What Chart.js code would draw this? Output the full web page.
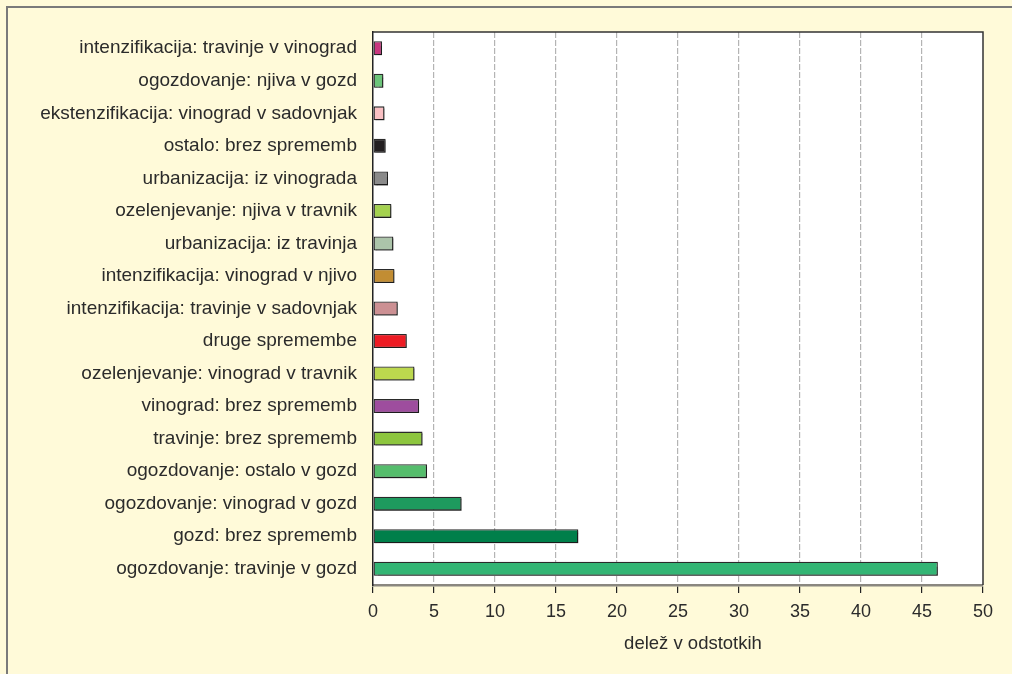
<!DOCTYPE html>
<html>
<head>
<meta charset="utf-8">
<script src="https://cdn.jsdelivr.net/npm/chart.js@4"></script>
<style>
  html, body { margin: 0; padding: 0; background: #fffad9; }
  #wrap { width: 1012px; height: 674px; }
</style>
</head>
<body>
<div id="wrap"><canvas id="landUseChart" width="1012" height="674"></canvas></div>
<script>
const categories = [
    'intenzifikacija: travinje v vinograd',
    'ogozdovanje: njiva v gozd',
    'ekstenzifikacija: vinograd v sadovnjak',
    'ostalo: brez sprememb',
    'urbanizacija: iz vinograda',
    'ozelenjevanje: njiva v travnik',
    'urbanizacija: iz travinja',
    'intenzifikacija: vinograd v njivo',
    'intenzifikacija: travinje v sadovnjak',
    'druge spremembe',
    'ozelenjevanje: vinograd v travnik',
    'vinograd: brez sprememb',
    'travinje: brez sprememb',
    'ogozdovanje: ostalo v gozd',
    'ogozdovanje: vinograd v gozd',
    'gozd: brez sprememb',
    'ogozdovanje: travinje v gozd'
];

const shares = [0.74, 0.85, 0.94, 1.04, 1.23, 1.51, 1.67, 1.76, 2.03, 2.77, 3.4, 3.78, 4.06, 4.43, 7.26, 16.83, 46.3];

const barColors = [
    '#c8377f', '#6cc47a', '#f9c0c3', '#231f20', '#8a8a8a', '#a4d14f',
    '#acc4aa', '#c28d33', '#cc9093', '#ed1c24', '#bcd84e', '#9e4d9e',
    '#8dc63f', '#55bd6c', '#1e9a5e', '#007f4a', '#33b574'
];

const xTicks = [0, 5, 10, 15, 20, 25, 30, 35, 40, 45, 50];
const axisTitle = 'delež v odstotkih';

// background, outer frame, white plot area, its top/right border and the axis title
const framePlugin = {
    id: 'frame',
    beforeDraw(chart) {
        const { ctx, chartArea: a } = chart;
        ctx.save();
        ctx.fillStyle = '#fffad9';
        ctx.fillRect(0, 0, chart.width, chart.height);
        ctx.strokeStyle = '#7a7a7a';
        ctx.lineWidth = 2;
        ctx.beginPath();
        ctx.moveTo(7, chart.height);
        ctx.lineTo(7, 7);
        ctx.lineTo(chart.width, 7);
        ctx.stroke();
        ctx.fillStyle = '#ffffff';
        ctx.fillRect(a.left, a.top, a.right - a.left, a.bottom - a.top);
        ctx.restore();
    },
    afterDraw(chart) {
        const { ctx, chartArea: a } = chart;
        ctx.save();
        ctx.strokeStyle = '#333333';
        ctx.lineWidth = 1.5;
        ctx.beginPath();
        ctx.moveTo(a.left, a.top);
        ctx.lineTo(a.right, a.top);
        ctx.lineTo(a.right, a.bottom);
        ctx.stroke();
        ctx.fillStyle = '#2b2b2b';
        ctx.font = '18.5px "Liberation Sans", Arial, sans-serif';
        ctx.textAlign = 'center';
        ctx.textBaseline = 'middle';
        ctx.fillText(axisTitle, (a.left + a.right) / 2 + 15, a.bottom + 59);
        ctx.restore();
    }
};

// soft drop shadow under the bars
const shadowPlugin = {
    id: 'barShadow',
    beforeDatasetsDraw(chart) {
        const ctx = chart.ctx;
        ctx.save();
        ctx.shadowColor = 'rgba(0, 0, 0, 0.35)';
        ctx.shadowOffsetX = 1.5;
        ctx.shadowOffsetY = 1.5;
        ctx.shadowBlur = 1;
    },
    afterDatasetsDraw(chart) {
        chart.ctx.restore();
    }
};

new Chart(document.getElementById('landUseChart'), {
    type: 'bar',
    data: {
        labels: categories,
        datasets: [
            {
                label: axisTitle,
                data: shares,
                backgroundColor: barColors,
                borderColor: '#2a2a2a',
                borderWidth: 1.3,
                borderSkipped: false,
                categoryPercentage: 1,
                barPercentage: 0.43,
            },
        ],
    },
    options: {
        indexAxis: 'y',
        responsive: false,
        animation: false,
        layout: {
            padding: { top: 32, right: 29, bottom: 0, left: 8 }
        },
        plugins: {
            legend: { display: false },
            tooltip: { enabled: false }
        },
        scales: {
            x: {
                min: 0,
                max: 50,
                afterBuildTicks: (scale) => {
                    scale.ticks = xTicks.map(v => ({ value: v }));
                },
                afterFit: (scale) => { scale.height = 89; },
                grid: {
                    color: (c) => (c.tick && (c.tick.value === 0 || c.tick.value === 50)) ? 'rgba(0,0,0,0)' : '#b4b4b4',
                    lineWidth: 1.2,
                    tickColor: '#222222',
                    tickLength: 8,
                    tickWidth: 1.2,
                },
                border: {
                    color: '#8a8780',
                    width: 2.5,
                    dash: [6, 2],
                },
                ticks: {
                    color: '#2b2b2b',
                    padding: 8,
                    maxRotation: 0,
                    font: { family: '"Liberation Sans", Arial, sans-serif', size: 18 }
                }
            },
            y: {
                afterFit: (scale) => { scale.width = 365; },
                grid: { display: false },
                border: {
                    color: '#222222',
                    width: 1.5,
                },
                ticks: {
                    color: '#2b2b2b',
                    padding: 8,
                    font: { family: '"Liberation Sans", Arial, sans-serif', size: 19 }
                }
            }
        }
    },
    plugins: [framePlugin, shadowPlugin]
});
</script>
</body>
</html>
